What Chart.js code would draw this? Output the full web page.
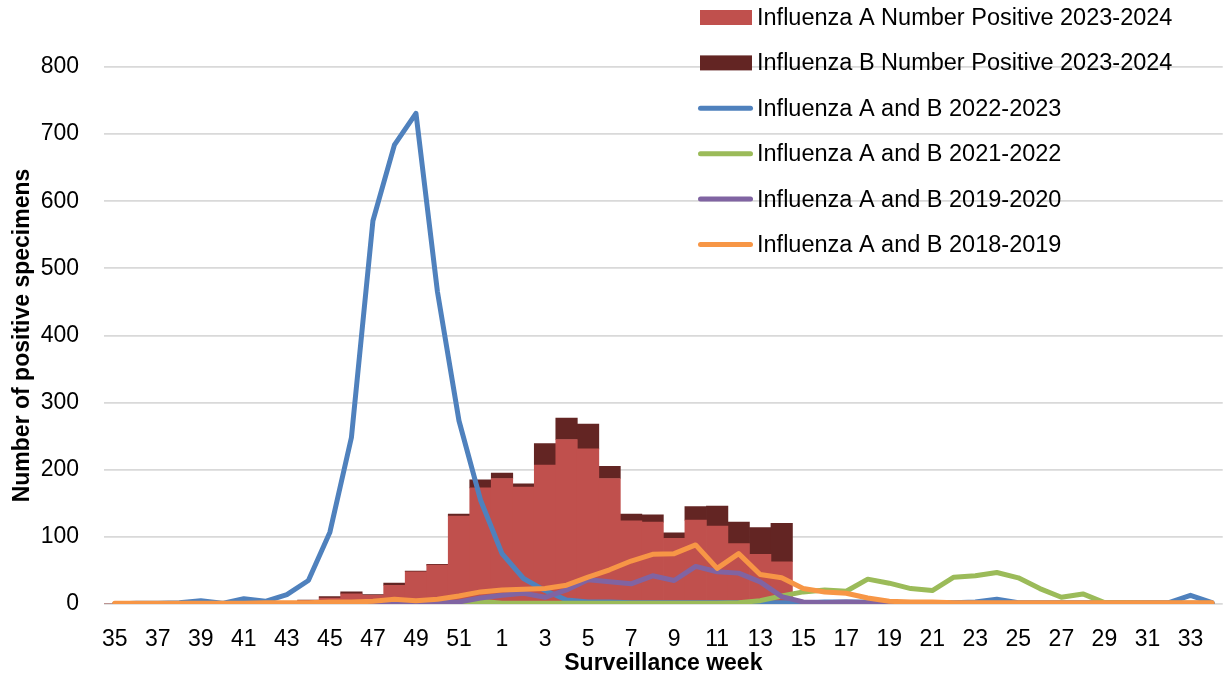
<!DOCTYPE html>
<html>
<head>
<meta charset="utf-8">
<script src="https://cdn.jsdelivr.net/npm/chart.js@4/dist/chart.umd.min.js"></script>
<style>
html,body{margin:0;padding:0;background:#fff;overflow:hidden;}
canvas{display:block;}
</style>
</head>
<body>
<canvas id="c" width="1234" height="677"></canvas>
<script>
// Surveillance weeks (35..52, then 1..34)
const weeks = [35,36,37,38,39,40,41,42,43,44,45,46,47,48,49,50,51,52,
  1,2,3,4,5,6,7,8,9,10,11,12,13,14,15,16,17,18,19,20,21,22,23,24,25,26,27,28,29,30,31,32,33,34];

const fluA_2324 = [0,0,0,0,0,1,1,2,3,5,9,15,13,28,48,58,131,173,
  187,174,207,245,231,187,124,122,98,125,116,90,74,63,
  null,null,null,null,null,null,null,null,null,null,null,null,null,null,null,null,null,null,null,null];

const fluB_2324 = [0,0,0,0,0,0,0,0,0,1,2,3,1,3,1,1,3,12,
  8,5,32,32,37,18,10,11,8,20,30,32,40,57,
  null,null,null,null,null,null,null,null,null,null,null,null,null,null,null,null,null,null,null,null];

const ab_2223 = [0,1,1,2,5,1,8,4,14,35,107,248,571,684,731,465,273,155,
  75,38,20,6,3,3,2,2,2,2,2,2,2,2,2,3,3,3,2,2,2,2,3,7,2,2,2,2,2,2,2,2,13,2];

const ab_2122 = [0,0,0,0,0,0,0,0,0,0,0,0,0,0,0,0,1,4,
  1,1,1,1,1,1,1,1,1,1,1,2,5,12,18,21,19,37,31,23,20,40,42,47,39,23,10,15,2,2,1,1,1,1];

const ab_1920 = [0,0,0,0,0,0,0,0,0,0,0,0,0,1,1,2,3,9,
  13,16,10,21,36,33,30,42,35,56,48,46,33,11,3,2,3,2,1,1,1,1,1,1,1,1,1,1,1,1,1,1,1,1];

const ab_1819 = [1,1,1,1,1,1,1,2,2,2,3,3,4,7,5,7,12,18,
  21,22,23,28,40,51,64,74,75,88,53,75,44,39,23,18,16,9,4,3,3,2,2,2,2,2,2,2,2,2,2,2,2,2];

const yTicks = [0,100,200,300,400,500,600,700,800];

const seriesLabels = [
  'Influenza A Number Positive 2023-2024',
  'Influenza B Number Positive 2023-2024',
  'Influenza A and B 2022-2023',
  'Influenza A and B 2021-2022',
  'Influenza A and B 2019-2020',
  'Influenza A and B 2018-2019'
];

const FONT = '"Liberation Sans", Arial, sans-serif';

function lineDs(label, data, color, order, stack) {
  return {
    type: 'line', label, data, borderColor: color, backgroundColor: color,
    borderWidth: 5, pointRadius: 0, pointHoverRadius: 0, tension: 0,
    borderCapStyle: 'round', borderJoinStyle: 'round', fill: false,
    order, stack
  };
}

const overlayLegend = {
  id: 'overlayLegend',
  afterDraw(chart) {
    const ctx = chart.ctx;
    ctx.save();
    const x0 = 700, y0 = 17.5, step = 45.4;
    chart.data.datasets.forEach((ds, i) => {
      const y = y0 + i * step;
      if (ds.type === 'bar') {
        ctx.fillStyle = ds.backgroundColor;
        ctx.fillRect(x0, y - 7.5, 52, 15);
      } else {
        ctx.strokeStyle = ds.borderColor;
        ctx.lineWidth = 5;
        ctx.lineCap = 'round';
        ctx.beginPath();
        ctx.moveTo(x0 + 0.5, y);
        ctx.lineTo(x0 + 50.5, y);
        ctx.stroke();
      }
      ctx.fillStyle = '#000';
      ctx.font = '23.5px ' + FONT;
      ctx.textBaseline = 'middle';
      ctx.textAlign = 'left';
      ctx.fillText(ds.label, x0 + 57, y + 1);
    });
    ctx.restore();
  }
};

new Chart(document.getElementById('c'), {
  type: 'bar',
  data: {
    labels: weeks.map(String),
    datasets: [
      { type: 'bar', label: seriesLabels[0], data: fluA_2324, backgroundColor: '#C0504D',
        borderWidth: 0, barPercentage: 1, categoryPercentage: 1, order: 10, stack: 'flu' },
      { type: 'bar', label: seriesLabels[1], data: fluB_2324, backgroundColor: '#632523',
        borderWidth: 0, barPercentage: 1, categoryPercentage: 1, order: 11, stack: 'flu' },
      lineDs(seriesLabels[2], ab_2223, '#4F81BD', 4, 's1'),
      lineDs(seriesLabels[3], ab_2122, '#9BBB59', 3, 's2'),
      lineDs(seriesLabels[4], ab_1920, '#8064A2', 2, 's3'),
      lineDs(seriesLabels[5], ab_1819, '#F79646', 1, 's4')
    ]
  },
  options: {
    responsive: false,
    animation: false,
    devicePixelRatio: 1,
    layout: { padding: { top: 67, right: 2, left: 0, bottom: 0 } },
    plugins: { legend: { display: false }, tooltip: { enabled: false } },
    scales: {
      x: {
        stacked: true,
        offset: true,
        grid: { display: false, drawTicks: false },
        border: { display: false },
        ticks: {
          autoSkip: false, maxRotation: 0, minRotation: 0, padding: 22,
          color: '#000', font: { family: FONT, size: 23 },
          callback: (v, i) => (i % 2 === 0 ? String(weeks[i]) : '')
        },
        title: {
          display: true, text: 'Surveillance week', color: '#000',
          font: { family: FONT, size: 23, weight: 'bold' }, padding: { top: 0, bottom: 0 }
        },
        afterFit(s) { s.height = 73; }
      },
      y: {
        stacked: true,
        min: yTicks[0], max: yTicks[yTicks.length - 1],
        grid: { color: '#d9d9d9', lineWidth: 1.8, drawTicks: false },
        border: { display: false },
        ticks: {
          stepSize: yTicks[1] - yTicks[0], padding: 25, color: '#000',
          font: { family: FONT, size: 23 }
        },
        title: {
          display: true, text: 'Number of positive specimens', color: '#000',
          font: { family: FONT, size: 23, weight: 'bold' }, padding: { top: 9, bottom: 0 }
        },
        afterFit(s) { s.width = 104; }
      }
    }
  },
  plugins: [overlayLegend]
});
</script>
</body>
</html>
